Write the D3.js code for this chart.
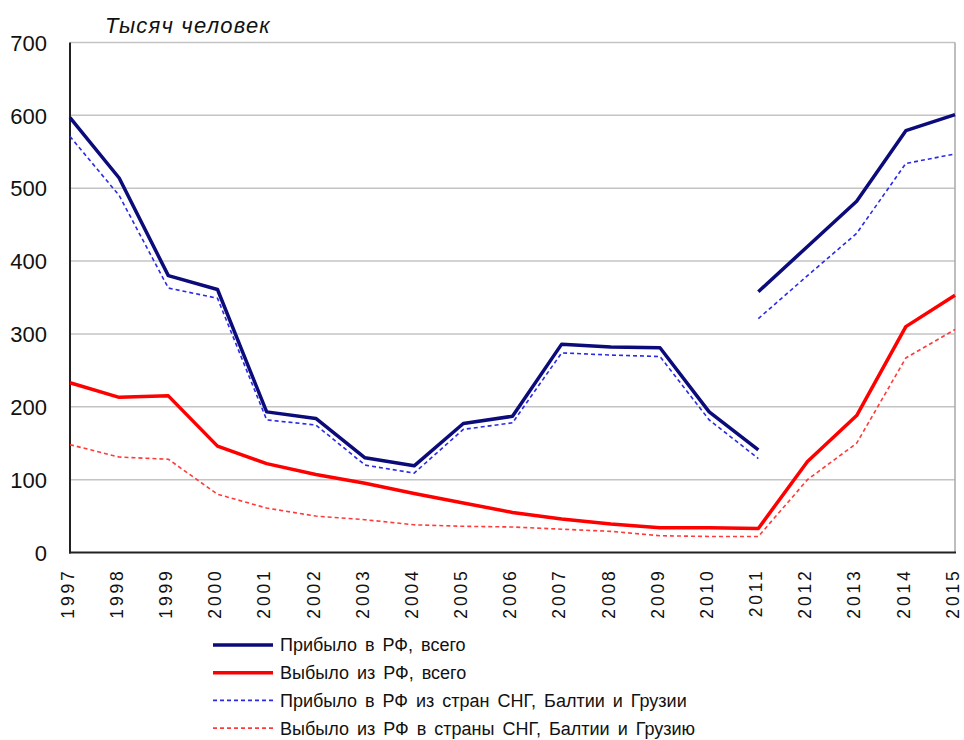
<!DOCTYPE html>
<html><head><meta charset="utf-8">
<script src="https://cdn.jsdelivr.net/npm/d3@7"></script>
<style>body{margin:0;background:#fff}svg{display:block}text{font-family:"Liberation Sans",Arial,sans-serif}</style>
</head><body>
<svg id="c" width="964" height="740"></svg>
<script>
const years = ["1997","1998","1999","2000","2001","2002","2003","2004","2005","2006","2007","2008","2009","2010","2011","2012","2013","2014","2015"];
// Arrivals to RF, total (old methodology 1997-2011, new 2011-2015)
const arrivalsTotalOld = [597,514,380,361,193,184,130,119,177,187,286,282,281,193,141];
const arrivalsTotalNew = [358,420,482,579,601];
// Departures from RF, total
const departuresTotal = [233,213,215,146,122,107,95,81,68,55,46,39,34,34,33,125,188,310,353];
// Arrivals from CIS, Baltics and Georgia
const arrivalsCisOld = [571,490,363,349,182,175,120,109,169,178,274,271,269,182,129];
const arrivalsCisNew = [321,380,438,534,547];
// Departures to CIS, Baltics and Georgia
const departuresCis = [148,131,128,80,61,50,45,38,36,35,32,29,23,22,22,100,150,267,306];
const yTicks = [0,100,200,300,400,500,600,700];
const seriesNames = ["Прибыло в РФ, всего","Выбыло из РФ, всего","Прибыло в РФ из стран СНГ, Балтии и Грузии","Выбыло из РФ в страны СНГ, Балтии и Грузию"];
const unitLabel = "Тысяч человек";

const svg = d3.select("#c");
const x = d3.scalePoint().domain(years).range([70, 955]);
const y = d3.scaleLinear().domain([0, 700]).range([552.5, 42.5]);

// gridlines
svg.append("g").selectAll("line").data(yTicks.filter(t => t > 0)).join("line")
  .attr("x1", 70).attr("x2", 955).attr("y1", d => y(d)).attr("y2", d => y(d))
  .attr("stroke", "#c4c4c4").attr("stroke-width", 1.5);
// right border
svg.append("line").attr("x1", 955).attr("x2", 955).attr("y1", y(700)).attr("y2", y(0))
  .attr("stroke", "#a8a8a8").attr("stroke-width", 1.5);

// y axis labels
const yAxis = d3.axisLeft(y).tickValues(yTicks).tickSize(0).tickPadding(23);
const yg = svg.append("g").attr("transform", "translate(70,0)").call(yAxis);
yg.select(".domain").remove();
yg.selectAll("text").attr("font-size", 22).attr("fill", "#111").attr("dy", "0.35em")
  .style("font-family", '"Liberation Sans",Arial,sans-serif');

// x axis
const xAxis = d3.axisBottom(x).tickSize(0).tickPadding(0);
const xg = svg.append("g").attr("transform", "translate(0,552.5)").call(xAxis);
xg.select(".domain").remove();
xg.selectAll("text").attr("font-size", 17.5).attr("fill", "#111")
  .style("font-family", '"Liberation Sans",Arial,sans-serif')
  .attr("letter-spacing", 2.8)
  .attr("transform", "rotate(-90)")
  .attr("text-anchor", "end").attr("x", -16).attr("y", 0).attr("dy", "0.19em");

// axes lines
svg.append("line").attr("x1", 70).attr("x2", 70).attr("y1", y(700)).attr("y2", y(0) + 1)
  .attr("stroke", "#222").attr("stroke-width", 2);
svg.append("line").attr("x1", 69).attr("x2", 956).attr("y1", y(0)).attr("y2", y(0))
  .attr("stroke", "#222").attr("stroke-width", 2);

const line = d3.line().x(d => x(d[0])).y(d => y(d[1]));
const zipFrom = (arr, start) => arr.map((v, i) => [years[start + i], v]);

const styles = [
  {color: "#0b0b7a", w: 3.5, dash: null},
  {color: "#ff0000", w: 3.5, dash: null},
  {color: "#2a2ae8", w: 1.6, dash: "4,3"},
  {color: "#ff3a3a", w: 1.6, dash: "4,3"}
];
const drawings = [
  [zipFrom(departuresCis, 0), 3],
  [zipFrom(arrivalsCisOld, 0), 2],
  [zipFrom(arrivalsCisNew, 14), 2],
  [zipFrom(departuresTotal, 0), 1],
  [zipFrom(arrivalsTotalOld, 0), 0],
  [zipFrom(arrivalsTotalNew, 14), 0]
];
drawings.forEach(([pts, s]) => {
  const st = styles[s];
  svg.append("path").attr("d", line(pts)).attr("fill", "none")
    .attr("stroke", st.color).attr("stroke-width", st.w)
    .attr("stroke-linejoin", "round")
    .attr("stroke-dasharray", st.dash);
});

// unit label
svg.append("text").attr("x", 105).attr("y", 33).attr("font-size", 22)
  .attr("font-style", "italic").attr("letter-spacing", 1.2).attr("fill", "#111").text(unitLabel);

// legend
const lg = svg.append("g");
seriesNames.forEach((name, i) => {
  const st = styles[i];
  const ly = 645 + i * 27.7;
  lg.append("line").attr("x1", 213).attr("x2", 273).attr("y1", ly).attr("y2", ly)
    .attr("stroke", st.color).attr("stroke-width", st.w).attr("stroke-dasharray", st.dash);
  lg.append("text").attr("x", 280).attr("y", ly).attr("dy", "0.36em")
    .attr("font-size", 18).attr("fill", "#111").attr("word-spacing", 3).text(name);
});
</script>
</body></html>
